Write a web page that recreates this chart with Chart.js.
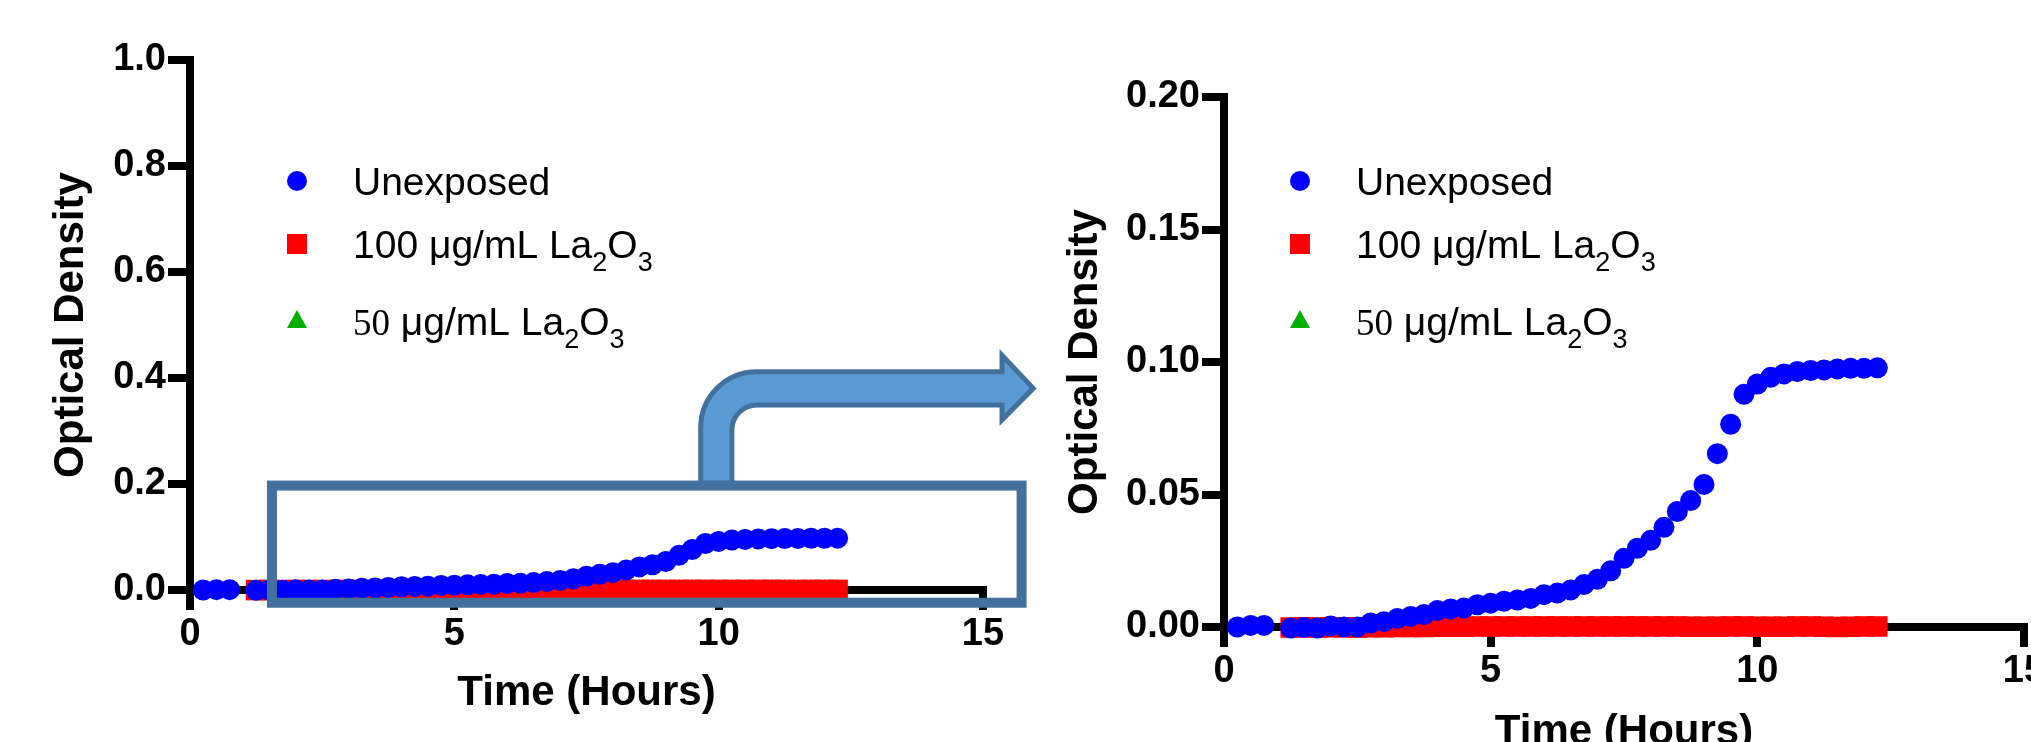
<!DOCTYPE html>
<html>
<head>
<meta charset="utf-8">
<script src="https://cdn.jsdelivr.net/npm/chart.js@4.4.0/dist/chart.umd.min.js"></script>
<style>
html, body { margin: 0; padding: 0; background: #ffffff; overflow: hidden; width: 2031px; height: 742px; }
#wrap { position: relative; width: 2031px; height: 742px; overflow: hidden; background: #ffffff; }
canvas { position: absolute; }
#leftChart { left: 0px; top: 0px; }
#rightChart { left: 1050px; top: 0px; }
</style>
</head>
<body>
<div id="wrap">
  <canvas id="leftChart" width="1050" height="742"></canvas>
  <canvas id="rightChart" width="1100" height="781"></canvas>
</div>
<script>
// ---------------- DATA ----------------
const seriesLabels = ['Unexposed', '100 μg/mL La₂O₃', '50 μg/mL La₂O₃'];

const timeUnexposed = [0.25, 0.5, 0.75,
  1.25, 1.5, 1.75, 2.0, 2.25, 2.5, 2.75, 3.0, 3.25, 3.5, 3.75, 4.0, 4.25, 4.5, 4.75,
  5.0, 5.25, 5.5, 5.75, 6.0, 6.25, 6.5, 6.75, 7.0, 7.25, 7.5, 7.75, 8.0, 8.25, 8.5, 8.75,
  9.0, 9.25, 9.5, 9.75, 10.0, 10.25, 10.5, 10.75, 11.0, 11.25, 11.5, 11.75, 12.0, 12.25];
const odUnexposed = [0.0000, 0.0006, 0.0006,
  -0.0004, -0.0002, -0.0004, 0.0004, 0.0000, 0.0000, 0.0015, 0.0020, 0.0032, 0.0040, 0.0047, 0.0062, 0.0068, 0.0072, 0.0084,
  0.0090, 0.0097, 0.0102, 0.0108, 0.0122, 0.0128, 0.0140, 0.0160, 0.0180, 0.0212, 0.0259, 0.0297, 0.0327, 0.0376, 0.0436, 0.0477,
  0.0538, 0.0654, 0.0765, 0.0878, 0.0917, 0.0942, 0.0955, 0.0964, 0.0968, 0.0970, 0.0974, 0.0976, 0.0976, 0.0978];

const time100 = [1.25, 1.5, 1.75, 2.0, 2.25, 2.5, 2.75, 3.0, 3.25, 3.5, 3.75, 4.0, 4.25, 4.5, 4.75,
  5.0, 5.25, 5.5, 5.75, 6.0, 6.25, 6.5, 6.75, 7.0, 7.25, 7.5, 7.75, 8.0, 8.25, 8.5, 8.75,
  9.0, 9.25, 9.5, 9.75, 10.0, 10.25, 10.5, 10.75, 11.0, 11.25, 11.5, 11.75, 12.0, 12.25];
const od100 = [-0.0002, -0.0001, -0.0002, -0.0001, -0.0001, -0.0002, -0.0001, -0.0001, 0.0000, 0.0000, 0.0000, 0.0001, 0.0001, 0.0001, 0.0002,
  0.0002, 0.0002, 0.0002, 0.0002, 0.0002, 0.0002, 0.0002, 0.0002, 0.0002, 0.0002, 0.0002, 0.0002, 0.0002, 0.0002, 0.0002, 0.0001,
  0.0001, 0.0001, 0.0002, 0.0002, 0.0001, 0.0001, 0.0001, 0.0002, 0.0002, 0.0001, 0.0000, 0.0001, 0.0002, 0.0002];

const time50 = [1.25, 1.5, 1.75, 2.0, 2.25, 2.5, 2.75, 3.0, 3.25, 3.5, 3.75, 4.0, 4.25, 4.5, 4.75,
  5.0, 5.25, 5.5, 5.75, 6.0, 6.25, 6.5, 6.75, 7.0, 7.25, 7.5, 7.75, 8.0, 8.25, 8.5, 8.75,
  9.0, 9.25, 9.5, 9.75, 10.0, 10.25, 10.5, 10.75, 11.0, 11.25, 11.5, 11.75, 12.0, 12.25];
const od50 = [-0.0004, -0.0004, -0.0004, -0.0004, -0.0004, -0.0004, -0.0004, -0.0004, -0.0003, -0.0003, -0.0003, -0.0003, -0.0003, -0.0003, -0.0002,
  -0.0002, -0.0002, -0.0002, -0.0002, -0.0002, -0.0001, 0.0001, -0.0002, -0.0002, -0.0002, -0.0002, -0.0002, -0.0002, -0.0002, 0.0001, -0.0002,
  -0.0002, -0.0002, -0.0002, -0.0002, -0.0002, -0.0002, -0.0002, -0.0002, -0.0002, -0.0002, -0.0002, -0.0002, -0.0002, -0.0002];

const xTickValues = [0, 5, 10, 15];
const yTickValuesFull = [0.0, 0.2, 0.4, 0.6, 0.8, 1.0];
const yTickValuesZoom = [0.00, 0.05, 0.10, 0.15, 0.20];

// ---------------- STYLE ----------------
const SANS = "'Liberation Sans', Arial, Helvetica, sans-serif";
const SERIF = "'Liberation Serif', 'Times New Roman', serif";
const seriesColors = ['#0000ff', '#ff0000', '#00b000'];
const seriesStyles = ['circle', 'rect', 'triangle'];
const seriesRadius = [10.5, 14.5, 11];

Chart.defaults.font.family = SANS;
Chart.defaults.color = '#000';

function pairs(xs, ys) { return xs.map((x, i) => ({ x: x, y: ys[i] })); }

function buildDatasets() {
  const sets = [[timeUnexposed, odUnexposed], [time100, od100], [time50, od50]];
  return sets.map((s, i) => ({
    label: seriesLabels[i],
    data: pairs(s[0], s[1]),
    showLine: false,
    pointStyle: seriesStyles[i],
    pointRadius: seriesRadius[i],
    pointHoverRadius: seriesRadius[i],
    pointBackgroundColor: seriesColors[i],
    pointBorderColor: seriesColors[i],
    pointBorderWidth: 0,
    backgroundColor: seriesColors[i],
    borderColor: seriesColors[i],
    clip: false
  }));
}

// custom legend (real text with subscripts)
function drawRichLabel(ctx, text, x, yc, prefixFont) {
  const mainFont = '39px ' + SANS;
  const subFont = '27px ' + SANS;
  const subs = { '₂': '2', '₃': '3' };
  const base = yc + 14;
  ctx.textAlign = 'left';
  ctx.textBaseline = 'alphabetic';
  ctx.fillStyle = '#000';
  let cx = x, i = 0, buf = '';
  if (prefixFont) {
    const m = text.match(/^\d+/);
    if (m) {
      ctx.font = prefixFont;
      ctx.fillText(m[0], cx, base);
      cx += ctx.measureText(m[0]).width;
      i = m[0].length;
    }
  }
  const flush = () => {
    if (buf) { ctx.font = mainFont; ctx.fillText(buf, cx, base); cx += ctx.measureText(buf).width; buf = ''; }
  };
  for (; i < text.length; i++) {
    const ch = text[i];
    if (subs[ch]) {
      flush();
      ctx.font = subFont;
      ctx.fillText(subs[ch], cx, base + 13);
      cx += ctx.measureText(subs[ch]).width;
    } else buf += ch;
  }
  flush();
}

function drawMarker(ctx, style, x, y, color) {
  ctx.fillStyle = color;
  ctx.beginPath();
  if (style === 'circle') {
    ctx.arc(x, y, 10, 0, Math.PI * 2);
  } else if (style === 'rect') {
    ctx.rect(x - 10, y - 10, 20, 20);
  } else {
    ctx.moveTo(x, y - 11);
    ctx.lineTo(x + 10, y + 7);
    ctx.lineTo(x - 10, y + 7);
    ctx.closePath();
  }
  ctx.fill();
}

const legendPlugin = {
  id: 'richLegend',
  afterDraw(chart, args, opts) {
    const ctx = chart.ctx;
    ctx.save();
    chart.data.datasets.forEach((ds, i) => {
      const y = opts.rows[i];
      drawMarker(ctx, seriesStyles[i], opts.x, y, seriesColors[i]);
      drawRichLabel(ctx, ds.label, opts.x + 56, y, opts.prefixFonts[i]);
    });
    ctx.restore();
  }
};

// zoom-region annotation (rectangle + bent arrow) in data units of the left chart
const zoomOverlayPlugin = {
  id: 'zoomOverlay',
  afterDraw(chart, args, o) {
    if (!o || !o.enabled) return;
    const xs = chart.scales.x, ys = chart.scales.y, ctx = chart.ctx;
    const px = v => xs.getPixelForValue(v), py = v => ys.getPixelForValue(v);
    const L = px(o.arrow.shaftLeft), R = px(o.arrow.shaftRight);
    const T = py(o.arrow.armTop), B = py(o.arrow.armBottom);
    const HB = px(o.arrow.headBack), TIP = px(o.arrow.tip);
    const HT = py(o.arrow.headTop), HBo = py(o.arrow.headBottom);
    const boxTop = py(o.box.yMax);
    const ro = o.arrow.outerRadius, ri = o.arrow.innerRadius;
    ctx.save();
    ctx.beginPath();
    ctx.moveTo(L, boxTop);
    ctx.lineTo(L, T + ro);
    ctx.arcTo(L, T, L + ro, T, ro);
    ctx.lineTo(HB, T);
    ctx.lineTo(HB, HT);
    ctx.lineTo(TIP, (T + B) / 2);
    ctx.lineTo(HB, HBo);
    ctx.lineTo(HB, B);
    ctx.lineTo(R + ri, B);
    ctx.arcTo(R, B, R, B + ri, ri);
    ctx.lineTo(R, boxTop);
    ctx.closePath();
    ctx.fillStyle = o.fill;
    ctx.fill();
    ctx.lineWidth = 5;
    ctx.lineJoin = 'miter';
    ctx.strokeStyle = o.stroke;
    ctx.stroke();
    // rectangle
    const x1 = px(o.box.xMin), x2 = px(o.box.xMax), y1 = py(o.box.yMax), y2 = py(o.box.yMin);
    ctx.lineWidth = 10;
    ctx.strokeStyle = o.stroke;
    ctx.strokeRect(x1, y1, x2 - x1, y2 - y1);
    ctx.restore();
  }
};

function makeChart(canvasId, cfg) {
  return new Chart(document.getElementById(canvasId), {
    type: 'scatter',
    data: { datasets: buildDatasets() },
    options: {
      responsive: false,
      animation: false,
      events: [],
      devicePixelRatio: 1,
      layout: { padding: cfg.padding },
      plugins: {
        legend: { display: false },
        tooltip: { enabled: false },
        richLegend: cfg.legend,
        zoomOverlay: cfg.overlay || { enabled: false }
      },
      scales: {
        x: {
          type: 'linear', position: 'bottom', min: 0, max: 15,
          afterBuildTicks: s => { s.ticks = xTickValues.map(v => ({ value: v })); },
          afterFit: s => { s.height = cfg.xHeight; },
          border: { display: true, color: '#000', width: 8 },
          grid: { drawOnChartArea: false, drawTicks: true, tickLength: 20, color: '#000', lineWidth: 8 },
          ticks: { color: '#000', padding: 2, maxRotation: 0, font: { family: SANS, size: 38, weight: 'bold' },
                   callback: v => String(v) },
          title: { display: true, text: 'Time (Hours)', color: '#000', padding: { top: 0, bottom: 23 },
                   font: { family: SANS, size: 42, weight: 'bold' } }
        },
        y: {
          type: 'linear', position: 'left', min: cfg.yMin, max: cfg.yMax,
          afterBuildTicks: s => { s.ticks = cfg.yTicks.map(v => ({ value: v })); },
          afterFit: s => { s.width = cfg.yWidth; },
          border: { display: true, color: '#000', width: 8 },
          grid: { drawOnChartArea: false, drawTicks: true, tickLength: 22, color: '#000', lineWidth: 8 },
          ticks: { color: '#000', padding: 2, font: { family: SANS, size: 38, weight: 'bold' },
                   callback: v => Number(v).toFixed(cfg.decimals) },
          title: { display: true, text: 'Optical Density', color: '#000', padding: { top: cfg.yTitlePad, bottom: 0 },
                   font: { family: SANS, size: 42, weight: 'bold' } }
        }
      }
    },
    plugins: [legendPlugin, zoomOverlayPlugin]
  });
}

makeChart('leftChart', {
  padding: { left: 0, top: 60, right: 67, bottom: 0 },
  xHeight: 152, yWidth: 190, yTitlePad: 46,
  yMin: 0, yMax: 1.0, yTicks: yTickValuesFull, decimals: 1,
  legend: { x: 297, rows: [181, 244, 321], prefixFonts: [null, null, '37px ' + SERIF] },
  overlay: {
    enabled: true,
    fill: '#5b9bd5', stroke: '#41719c',
    box: { xMin: 1.55, xMax: 15.73, yMin: -0.024, yMax: 0.197 },
    arrow: { shaftLeft: 9.66, shaftRight: 10.25, armTop: 0.412, armBottom: 0.349,
             headBack: 15.36, tip: 15.95, headTop: 0.443, headBottom: 0.321,
             outerRadius: 56, innerRadius: 25 }
  }
});

makeChart('rightChart', {
  padding: { left: 0, top: 97, right: 126, bottom: 0 },
  xHeight: 154, yWidth: 174, yTitlePad: 10,
  yMin: 0, yMax: 0.2, yTicks: yTickValuesZoom, decimals: 2,
  legend: { x: 250, rows: [181, 244, 321], prefixFonts: [null, null, '37px ' + SERIF] }
});
</script>
</body>
</html>
